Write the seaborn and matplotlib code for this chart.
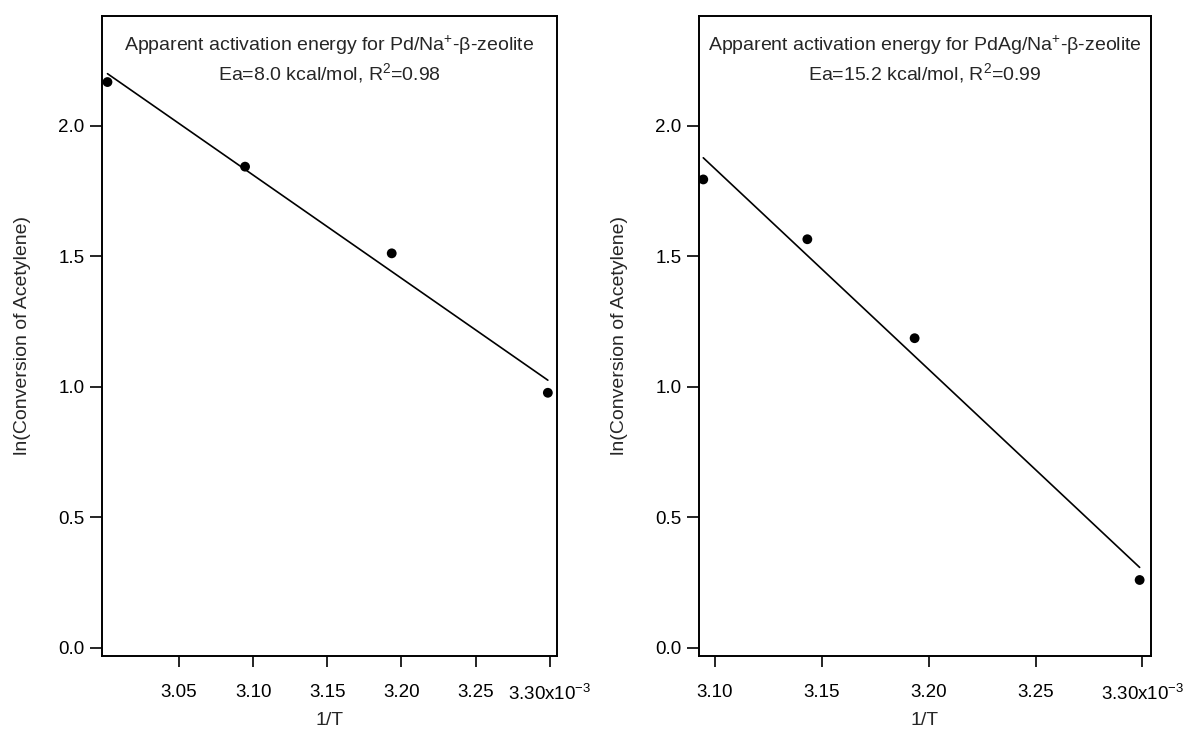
import numpy as np
import pandas as pd
import matplotlib
matplotlib.use("Agg")
import matplotlib.pyplot as plt
import seaborn as sns

# Inverse temperature (units of 1e-3 1/K) and ln(acetylene conversion)
inv_T_pd = [3.0017, 3.0945, 3.1934, 3.2987]
ln_conv_pd = [2.167, 1.843, 1.511, 0.977]

inv_T_pdag = [3.0945, 3.1432, 3.1934, 3.2987]
ln_conv_pdag = [1.794, 1.565, 1.186, 0.260]

titles = [
    "Apparent activation energy for Pd/Na$^{+}$-\u03b2-zeolite\nEa=8.0 kcal/mol, R$^{2}$=0.98",
    "Apparent activation energy for PdAg/Na$^{+}$-\u03b2-zeolite\nEa=15.2 kcal/mol, R$^{2}$=0.99",
]
xticks_pd = [3.05, 3.10, 3.15, 3.20, 3.25, 3.30]
xticks_pdag = [3.10, 3.15, 3.20, 3.25, 3.30]
yticks = [0.0, 0.5, 1.0, 1.5, 2.0]
xlabel = "1/T"
ylabel = "ln(Conversion of Acetylene)"

sns.set_theme(style="ticks")
plt.rcParams["font.family"] = ["Liberation Sans", "DejaVu Sans"]
plt.rcParams["mathtext.fontset"] = "custom"
plt.rcParams["mathtext.rm"] = "Liberation Sans"
plt.rcParams["mathtext.it"] = "Liberation Sans:italic"

fig = plt.figure(figsize=(11.9, 7.3), dpi=100)
ax1 = fig.add_axes([0.0857, 0.1014, 0.3824, 0.8767])
ax2 = fig.add_axes([0.5874, 0.1014, 0.3798, 0.8767])

panels = [
    (ax1, inv_T_pd, ln_conv_pd, xticks_pd, (2.998, 3.3049), titles[0]),
    (ax2, inv_T_pdag, ln_conv_pdag, xticks_pdag, (3.0925, 3.304), titles[1]),
]

for ax, xs, ys, xt, xlim, title in panels:
    df = pd.DataFrame({"x": xs, "y": ys})
    # measured points plus least-squares Arrhenius line
    sns.regplot(
        data=df, x="x", y="y", ax=ax, ci=None, truncate=True,
        scatter_kws=dict(s=50, color="black", edgecolor="none", alpha=1, zorder=3),
        line_kws=dict(color="black", lw=1.2),
    )
    ax.set_xlim(*xlim)
    ax.set_ylim(-0.031, 2.42)
    ax.set_xticks(xt)
    labels = [f"{v:.2f}" for v in xt]
    labels[-1] = labels[-1] + "x10$^{-3}$"
    ax.set_xticklabels(labels)
    ax.set_yticks(yticks)
    ax.set_yticklabels([f"{v:.1f}" for v in yticks])
    ax.tick_params(axis="x", direction="out", length=8, width=1.2,
                   pad=12, labelsize=13.5, colors="black")
    ax.tick_params(axis="y", direction="out", length=8.5, width=1.2,
                   pad=4, labelsize=13.5, colors="black")
    for sp in ax.spines.values():
        sp.set_linewidth(1.4)
        sp.set_color("black")
    ax.set_xlabel(xlabel, fontsize=14, labelpad=6)
    ax.set_ylabel(ylabel, fontsize=14, labelpad=20)
    ax.text(0.5, 0.972, title, transform=ax.transAxes, ha="center", va="top",
            fontsize=14, linespacing=1.2)

fig.savefig("out.png", dpi=100)
